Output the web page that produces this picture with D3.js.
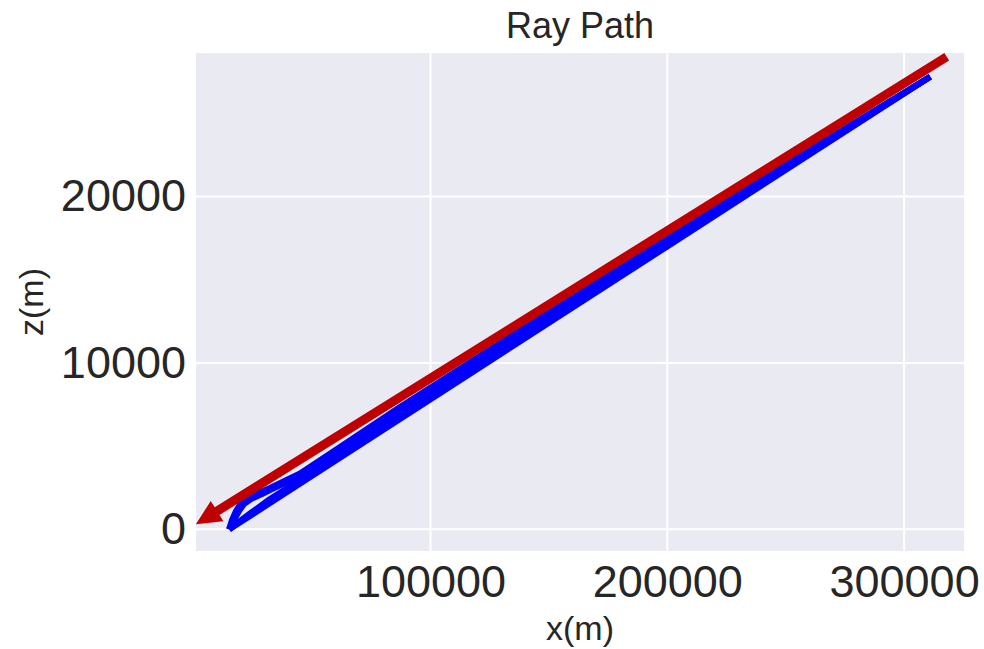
<!DOCTYPE html>
<html>
<head>
<meta charset="utf-8">
<script src="https://cdn.jsdelivr.net/npm/d3@7"></script>
<style>
  html, body { margin: 0; padding: 0; background: #ffffff; }
  svg text { font-family: "Liberation Sans", Arial, sans-serif; fill: #262626; }
</style>
</head>
<body>
<svg id="chart" width="984" height="649"></svg>
<script>
// Ray traces, x (m) and z (m) along each path
const ray1 = [[15000, 0], [60000, 4130], [120000, 9650], [200000, 17000], [311000, 27200]];
const ray2 = [[15000, 0], [23756, 900], [44873, 2903], [87106, 6809], [200000, 17150], [311000, 27200]];
const ray3 = [[15000, 0], [19532, 499], [23756, 950], [32203, 1821], [44873, 2963], [61766, 4645], [87106, 6989], [200000, 17300], [311000, 27200]];
const ray4 = [[14900, 0], [16998, 559], [19110, 1100], [21222, 1520], [24178, 1821], [28824, 2121], [32203, 2362], [44873, 3203], [61766, 4796], [87106, 7170], [200000, 17450], [311000, 27200]];
const ray5 = [[14900, 0], [16154, 559], [17843, 1100], [19954, 1581], [22488, 1941], [25867, 2091], [32203, 2482], [44873, 3353], [61766, 4946], [87106, 7350], [200000, 17600], [311000, 27200]];
const rays = [ray1, ray2, ray3, ray4, ray5];

// Direction arrow: tail and head in data units
const arrowTail = [318000, 28400];
const arrowHead = [900, 300];

// Axis ticks
const xTicks = [100000, 200000, 300000];
const yTicks = [0, 10000, 20000];
const xDomain = [950, 325300];
const yDomain = [-1304, 28624];

const svg = d3.select("#chart");
const plot = { left: 196, right: 964, top: 53, bottom: 551 };

const x = d3.scaleLinear().domain(xDomain).range([plot.left, plot.right]);
const y = d3.scaleLinear().domain(yDomain).range([plot.bottom, plot.top]);

// Plot background
svg.append("rect")
  .attr("x", plot.left).attr("y", plot.top)
  .attr("width", plot.right - plot.left).attr("height", plot.bottom - plot.top)
  .attr("fill", "#eaeaf2");

// Gridlines
const grid = svg.append("g").attr("stroke", "#ffffff").attr("stroke-width", 2);
grid.selectAll("line.gx").data(xTicks).join("line")
  .attr("x1", d => x(d)).attr("x2", d => x(d))
  .attr("y1", plot.top).attr("y2", plot.bottom);
grid.selectAll("line.gy").data(yTicks).join("line")
  .attr("y1", d => y(d)).attr("y2", d => y(d))
  .attr("x1", plot.left).attr("x2", plot.right);

// Axes (labels only, no spines or tick marks)
const xAxis = d3.axisBottom(x).tickValues(xTicks).tickSize(0).tickPadding(14).tickFormat(d3.format("d"));
const yAxis = d3.axisLeft(y).tickValues(yTicks).tickSize(0).tickPadding(10).tickFormat(d3.format("d"));

const gx = svg.append("g").attr("transform", `translate(0,${plot.bottom})`).call(xAxis);
const gy = svg.append("g").attr("transform", `translate(${plot.left},0)`).call(yAxis);
[gx, gy].forEach(g => {
  g.select(".domain").remove();
  g.selectAll("text")
    .attr("font-family", "Liberation Sans, Arial, sans-serif")
    .attr("font-size", 45)
    .attr("fill", "#262626");
});

// Clip to the plot area
svg.append("clipPath").attr("id", "plotClip")
  .append("rect")
  .attr("x", plot.left).attr("y", plot.top)
  .attr("width", plot.right - plot.left).attr("height", plot.bottom - plot.top);

// Ray paths
const line = d3.line().x(d => x(d[0])).y(d => y(d[1]));
svg.append("g").attr("clip-path", "url(#plotClip)")
  .selectAll("path").data(rays).join("path")
  .attr("d", line)
  .attr("fill", "none")
  .attr("stroke", "#0000ff")
  .attr("stroke-width", 6)
  .attr("stroke-linejoin", "round");

// Arrow (shaft plus triangular head), built in screen space from the data endpoints
function arrowPath(tail, head, shaftW, headW, headL) {
  const sx = x(tail[0]), sy = y(tail[1]);
  const tx = x(head[0]), ty = y(head[1]);
  const len = Math.hypot(tx - sx, ty - sy);
  const dx = (tx - sx) / len, dy = (ty - sy) / len;
  const nx = -dy, ny = dx;
  const bx = tx - dx * headL, by = ty - dy * headL;
  const p = d3.path();
  p.moveTo(sx + nx * shaftW / 2, sy + ny * shaftW / 2);
  p.lineTo(bx + nx * shaftW / 2, by + ny * shaftW / 2);
  p.lineTo(bx + nx * headW / 2, by + ny * headW / 2);
  p.lineTo(tx, ty);
  p.lineTo(bx - nx * headW / 2, by - ny * headW / 2);
  p.lineTo(bx - nx * shaftW / 2, by - ny * shaftW / 2);
  p.lineTo(sx - nx * shaftW / 2, sy - ny * shaftW / 2);
  p.closePath();
  return p.toString();
}
svg.append("path")
  .attr("d", arrowPath(arrowTail, arrowHead, 9, 24, 25))
  .attr("fill", "#c00000");

// Title and axis labels
svg.append("text")
  .attr("x", (plot.left + plot.right) / 2).attr("y", 38)
  .attr("text-anchor", "middle").attr("font-size", 36)
  .text("Ray Path");
svg.append("text")
  .attr("x", (plot.left + plot.right) / 2).attr("y", 640)
  .attr("text-anchor", "middle").attr("font-size", 34)
  .text("x(m)");
svg.append("text")
  .attr("transform", `translate(43,${(plot.top + plot.bottom) / 2}) rotate(-90)`)
  .attr("text-anchor", "middle").attr("font-size", 34)
  .text("z(m)");
</script>
</body>
</html>
